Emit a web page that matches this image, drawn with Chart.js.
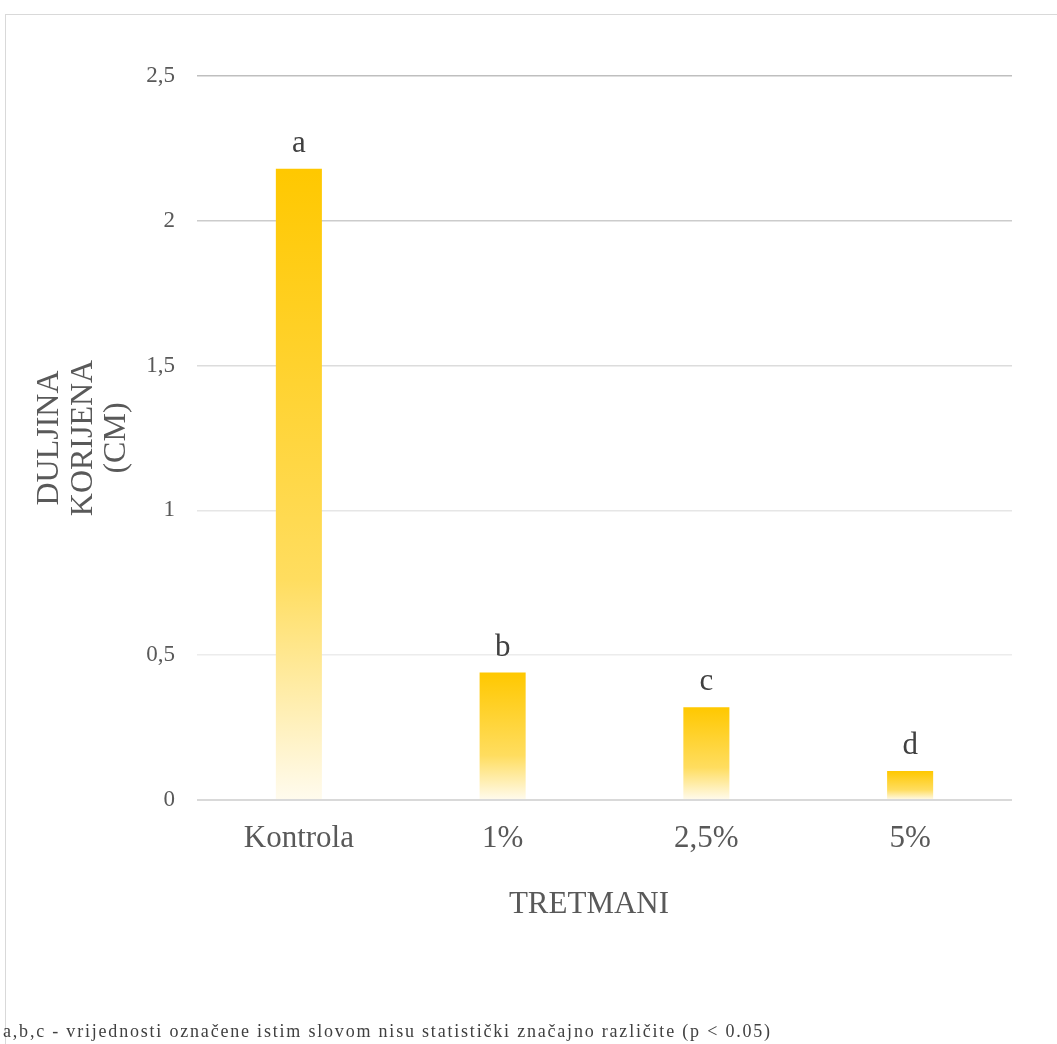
<!DOCTYPE html>
<html>
<head>
<meta charset="utf-8">
<script src="https://cdn.jsdelivr.net/npm/chart.js@4.4.1/dist/chart.umd.min.js"></script>
<style>
  body { margin: 0; background: #fff; }
  #frame { position: absolute; left: 5px; top: 14px; width: 1100px; height: 1100px; border: 1px solid #d9d9d9; }
  #wrap { position: absolute; left: 0; top: 0; width: 1057px; height: 1044px; }
  #note { position: absolute; left: 3px; top: 1021px; font-family: "Liberation Serif", serif; font-size: 18px;
          letter-spacing: 1.8px; color: #404040; white-space: nowrap; }
</style>
</head>
<body>
<div id="frame"></div>
<div id="wrap"><canvas id="myChart" width="1057" height="1044"></canvas></div>
<div id="note">a,b,c - vrijednosti označene istim slovom nisu statistički značajno različite (p &lt; 0.05)</div>
<script>
// data
const categories = ['Kontrola', '1%', '2,5%', '5%'];
const rootLength = [2.18, 0.44, 0.32, 0.10];
const letters = ['a', 'b', 'c', 'd'];
const yTicks = [0, 0.5, 1, 1.5, 2, 2.5];

const serif = '"Liberation Serif", "Times New Roman", serif';

// each bar fades from its own top down to near white
function barGradient(context) {
	const chart = context.chart;
	if (!chart.chartArea || !chart.scales.y) return '#ffc800';
	const y = chart.scales.y;
	const top = y.getPixelForValue(rootLength[context.dataIndex]);
	const bottom = y.getPixelForValue(0);
	const g = chart.ctx.createLinearGradient(0, top, 0, bottom);
	g.addColorStop(0, 'rgb(255,200,0)');
	g.addColorStop(0.65, 'rgb(255,221,95)');
	g.addColorStop(1, 'rgb(255,251,238)');
	return g;
}

// letters above the bars
const letterPlugin = {
	id: 'letters',
	afterDatasetsDraw(chart) {
		const ctx = chart.ctx;
		const meta = chart.getDatasetMeta(0);
		ctx.save();
		ctx.font = '31px ' + serif;
		ctx.fillStyle = '#404040';
		ctx.textAlign = 'center';
		ctx.textBaseline = 'alphabetic';
		meta.data.forEach((bar, i) => {
			ctx.fillText(letters[i], bar.x, bar.y - 17);
		});
		ctx.restore();
	}
};

const gridColors = {'2.5': '#bfbfbf', '2': '#cccccc', '1.5': '#dcdcdc', '1': '#e6e6e6', '0.5': '#ececec', '0': '#d9d9d9'};

let myChart = new Chart(document.getElementById('myChart'), {
	type: 'bar',
	data: {
		labels: categories,
		datasets: [{
			data: rootLength,
			backgroundColor: barGradient,
			borderWidth: 0,
			barPercentage: 0.226,
			categoryPercentage: 1
		}]
	},
	options: {
		responsive: false,
		animation: false,
		layout: { padding: { top: 76, right: 45, left: 33, bottom: 114 } },
		plugins: {
			legend: { display: false },
			tooltip: { enabled: false }
		},
		scales: {
			x: {
				grid: { display: false, drawTicks: false },
				border: { display: false },
				ticks: { color: '#595959', font: { family: serif, size: 31 }, padding: 20 },
				title: {
					display: true, text: 'TRETMANI    ', color: '#595959',	// trailing spaces nudge it left like the original
					font: { family: serif, size: 31 }, padding: { top: 0, bottom: 7 }
				},
				afterFit(scale) { scale.height = 130; }
			},
			y: {
				min: 0,
				max: 2.5,
				afterBuildTicks(scale) { scale.ticks = yTicks.map(v => ({ value: v })); },
				grid: {
					drawTicks: false,
					color: ctx => gridColors[String(ctx.tick.value)] || '#e6e6e6',
					lineWidth: ctx => ctx.tick.value === 0 ? 2 : 1.5
				},
				border: { display: false },
				ticks: {
					color: '#595959',
					font: { family: serif, size: 23 },
					padding: 22,
					callback: v => String(v).replace('.', ',')
				},
				title: {
					display: true,
					text: ['DULJINA', 'KORIJENA', '(CM)'],
					color: '#595959',
					font: { family: serif, size: 32, lineHeight: 1.05 },
					padding: { top: 0, bottom: 0 }
				},
				afterFit(scale) { scale.width = 164; }
			}
		}
	},
	plugins: [letterPlugin]
});
</script>
</body>
</html>
